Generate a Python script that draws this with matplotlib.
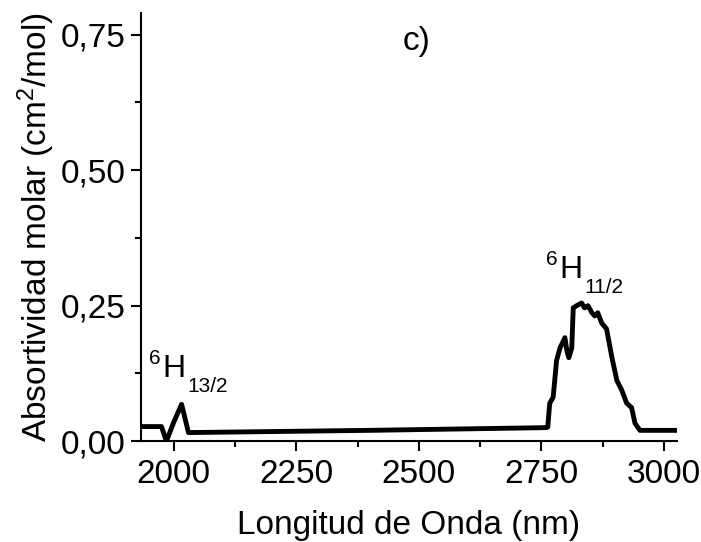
import numpy as np
import matplotlib.pyplot as plt
from matplotlib.ticker import MultipleLocator, FuncFormatter

plt.rcParams['font.family'] = ['Liberation Sans', 'DejaVu Sans']
plt.rcParams['mathtext.fontset'] = 'custom'
plt.rcParams['mathtext.rm'] = 'Liberation Sans'
plt.rcParams['mathtext.it'] = 'Liberation Sans'
plt.rcParams['mathtext.bf'] = 'Liberation Sans'

# espectro
wavelength = [1933, 1975, 1985, 2000, 2016, 2030, 2040, 2400, 2760,
              2763, 2767, 2774, 2781, 2788, 2798, 2802, 2806, 2812, 2815,
              2822, 2832, 2838, 2845, 2853, 2859, 2865, 2873, 2883, 2894,
              2904, 2914, 2924, 2934, 2941, 2951, 3027]
absorb = [0.027, 0.027, 0.0, 0.035, 0.068, 0.016, 0.016, 0.020, 0.025,
          0.026, 0.070, 0.081, 0.149, 0.172, 0.191, 0.167, 0.154, 0.172, 0.246,
          0.250, 0.255, 0.246, 0.250, 0.237, 0.231, 0.237, 0.218, 0.207, 0.154,
          0.112, 0.094, 0.070, 0.062, 0.033, 0.020, 0.020]

# transiciones: (x de la H, linea base de la H, subindice)
trans_x = [1976, 2786]
trans_y = [0.118, 0.301]
trans_sub = ['13/2', '11/2']

fig = plt.figure(figsize=(7.01, 5.42), dpi=100)
ax = fig.add_axes([0.201, 0.186, 0.765, 0.79])
ax.plot(wavelength, absorb, color='black', lw=3.5)

ax.set_xlim(1933, 3027)
ax.set_ylim(0, 0.79)
ax.xaxis.set_major_locator(MultipleLocator(250))
ax.xaxis.set_minor_locator(MultipleLocator(125))
ax.yaxis.set_major_locator(MultipleLocator(0.25))
ax.yaxis.set_minor_locator(MultipleLocator(0.125))
ax.yaxis.set_major_formatter(FuncFormatter(lambda v, p: f'{v:.2f}'.replace('.', ',')))

for s in ['top', 'right']:
    ax.spines[s].set_visible(False)
for s in ['left', 'bottom']:
    ax.spines[s].set_linewidth(1.5)
ax.tick_params(which='major', direction='out', length=7, width=1.5, labelsize=24)
ax.tick_params(axis='x', which='major', pad=6)
ax.tick_params(axis='y', which='major', pad=4)
ax.tick_params(which='minor', direction='out', length=4, width=1.5)

ax.set_xlabel('Longitud de Onda (nm)', fontsize=24, labelpad=14)
ax.set_ylabel(r'Absortividad molar (cm$^2$/mol)', fontsize=24, labelpad=3)

ax.text(2495, 0.738, 'c)', fontsize=24, ha='center', va='center')

# etiquetas estilo Origin: 6 arriba a la izquierda, subindice bajo la linea base
for x, y, sub in zip(trans_x, trans_y, trans_sub):
    ax.annotate('H', (x, y), fontsize=23, ha='left', va='baseline')
    ax.annotate('6', (x, y), xytext=(-1, 28), textcoords='offset pixels',
                fontsize=15, ha='right', va='top')
    ax.annotate(sub, (x, y), xytext=(25, 0), textcoords='offset pixels',
                fontsize=15, ha='left', va='top')

fig.savefig('out.png', dpi=100)
